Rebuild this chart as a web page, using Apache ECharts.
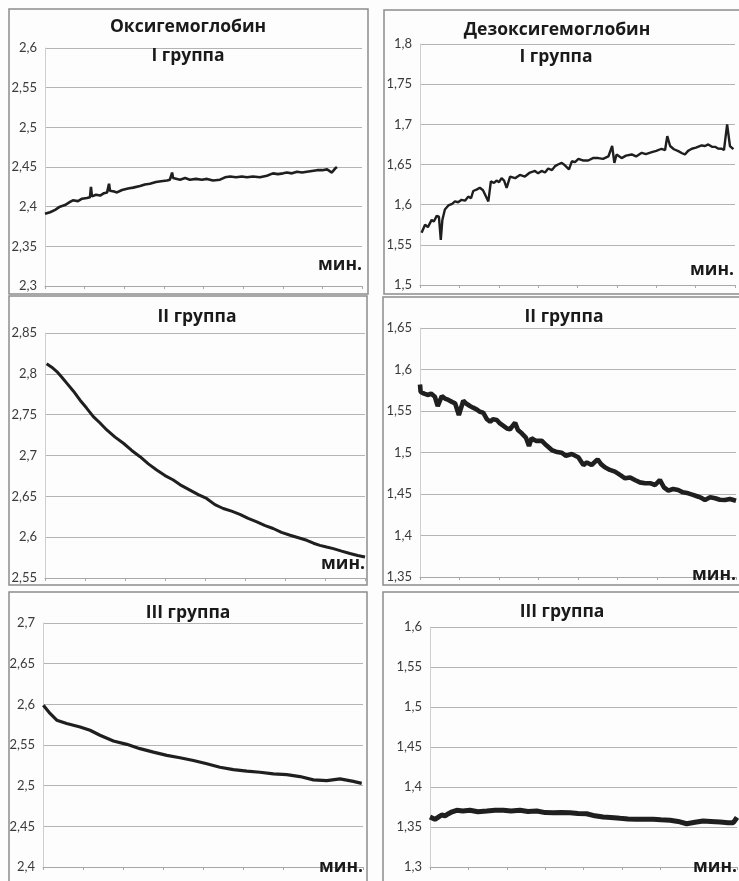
<!DOCTYPE html>
<html>
<head>
<meta charset="utf-8">
<script src="https://cdn.jsdelivr.net/npm/echarts@6/dist/echarts.min.js"></script>
<style>
  html, body { margin: 0; padding: 0; background: #fdfdfd; }
  #chart { width: 739px; height: 881px; }
</style>
</head>
<body>
<div id="chart"></div>
<script>
// заголовки панелей
const panelTitles = ['Оксигемоглобин', 'Дезоксигемоглобин'];
const groupTitles = ['I группа', 'I группа', 'II группа', 'II группа', 'III группа', 'III группа'];
const axisName = 'мин.';

// шкалы Y: [min, max, шаг]
const yScales = [
  [2.3, 2.6, 0.05], [1.5, 1.8, 0.05],
  [2.55, 2.85, 0.05], [1.35, 1.65, 0.05],
  [2.4, 2.7, 0.05], [1.3, 1.6, 0.05]
];

// данные: [время (доля оси, %), значение]
const oxyI = [
  [0, 2.391], [1.6, 2.393], [3.2, 2.396], [4.7, 2.400], [6.3, 2.402], [7.9, 2.406], [8.8, 2.408],
  [10.4, 2.407], [11.7, 2.410], [13.2, 2.411], [14.2, 2.412], [14.5, 2.425], [14.8, 2.413],
  [16.1, 2.415], [17.4, 2.414], [18.6, 2.417], [19.6, 2.418], [20.2, 2.429], [20.5, 2.420],
  [21.8, 2.419], [22.7, 2.418], [24.3, 2.421], [26.2, 2.423], [27.8, 2.424], [30, 2.426],
  [31.5, 2.428], [33.1, 2.429], [35, 2.431], [36.6, 2.432], [38.5, 2.433], [39.4, 2.434],
  [40.1, 2.443], [40.4, 2.436], [41, 2.435], [42.6, 2.434], [44.2, 2.436], [45.7, 2.434],
  [47.6, 2.435], [49.5, 2.434], [51.1, 2.435], [53, 2.433], [55.2, 2.434], [56.8, 2.437],
  [58.4, 2.438], [60.3, 2.437], [62.1, 2.438], [63.7, 2.437], [65.6, 2.438], [67.8, 2.437],
  [70, 2.439], [71.9, 2.442], [73.5, 2.441], [75.1, 2.442], [76.3, 2.443], [77.9, 2.442],
  [79.5, 2.444], [81.1, 2.443], [82.6, 2.444], [84.2, 2.445], [85.8, 2.446], [87.4, 2.446],
  [89, 2.447], [90.5, 2.443], [91.5, 2.448], [92.1, 2.450]
];
const deoxyI = [
  [0.5, 1.565], [1.6, 1.575], [2.5, 1.572], [3.7, 1.581], [4.4, 1.579], [5.3, 1.586], [6, 1.585],
  [6.6, 1.556], [7.1, 1.581], [7.9, 1.594], [9, 1.599], [10.2, 1.601], [11.1, 1.604], [12.1, 1.603],
  [13.2, 1.606], [14.3, 1.605], [15.3, 1.610], [16.2, 1.608], [16.9, 1.617], [18.1, 1.619],
  [19, 1.621], [20, 1.618], [20.6, 1.619], [21.7, 1.604], [22.5, 1.629], [23.5, 1.627],
  [24.3, 1.630], [25.1, 1.628], [25.9, 1.633], [26.7, 1.630], [27.5, 1.621], [28.6, 1.635],
  [30.2, 1.633], [31.7, 1.637], [33.3, 1.635], [34.9, 1.640], [36.5, 1.642], [37.5, 1.639],
  [38.6, 1.642], [39.7, 1.640], [40.7, 1.645], [41.9, 1.643], [42.9, 1.648], [43.8, 1.650],
  [45, 1.652], [46, 1.649], [47.3, 1.644], [48.2, 1.654], [49.2, 1.653], [50.3, 1.657],
  [51.7, 1.655], [53.4, 1.655], [54.9, 1.658], [56.6, 1.658], [58.1, 1.657], [59.8, 1.660],
  [61, 1.673], [61.7, 1.652], [62.4, 1.6625], [64, 1.658], [65.4, 1.661], [67.2, 1.6625],
  [68.6, 1.660], [70.4, 1.6646], [71.7, 1.663], [73.6, 1.6654], [75, 1.667], [76.7, 1.6696],
  [77.8, 1.668], [78.5, 1.6854], [79.4, 1.673], [80.6, 1.669], [82, 1.6666], [83.2, 1.664],
  [84.1, 1.6625], [85.1, 1.667], [86.3, 1.6696], [87.6, 1.671], [89.4, 1.6737], [90.5, 1.673],
  [91.5, 1.675], [92.7, 1.672], [93.7, 1.672], [94.6, 1.670], [95.8, 1.6696], [96.5, 1.668],
  [97.5, 1.700], [98.4, 1.673], [99.5, 1.669]
];
const oxyII = [
  [0.5, 2.8123], [2.1, 2.8081], [3.7, 2.8028], [5.2, 2.7962], [6.8, 2.7886], [8.9, 2.7787],
  [10.9, 2.768], [13, 2.7581], [15.1, 2.7476], [17.2, 2.7398], [19.3, 2.7313], [21.9, 2.7225],
  [24.5, 2.715], [27.1, 2.7062], [29.7, 2.6985], [32.3, 2.6897], [34.9, 2.6822], [37.5, 2.6754],
  [40.1, 2.670], [42.7, 2.6631], [45.3, 2.6576], [47.9, 2.6521], [50.5, 2.6474], [53.1, 2.6398],
  [55.7, 2.6351], [58.3, 2.6318], [60.9, 2.628], [63.5, 2.6229], [66.2, 2.6187], [68.8, 2.6141],
  [71.3, 2.6106], [73.9, 2.6058], [76.6, 2.6024], [79.2, 2.5993], [81.8, 2.5962], [83.9, 2.5926],
  [85.9, 2.590], [88, 2.5879], [90.1, 2.586], [92.7, 2.5829], [95.3, 2.580], [97.7, 2.5776],
  [100, 2.5757]
];
const deoxyII = [
  [0, 1.582], [0.2, 1.573], [1.3, 1.571], [2.6, 1.5693], [3.5, 1.571], [4.7, 1.5672], [5.6, 1.556],
  [6.9, 1.568], [7.9, 1.565], [9, 1.5633], [10.1, 1.561], [11.1, 1.5593], [12.3, 1.5452],
  [13.7, 1.5624], [14.6, 1.559], [15.8, 1.556], [16.8, 1.554], [17.9, 1.552], [19, 1.549],
  [20, 1.548], [21.2, 1.540], [22.2, 1.537], [23.1, 1.540], [24.3, 1.5392], [25.3, 1.535],
  [26.4, 1.532], [27.5, 1.529], [28.5, 1.528], [30.1, 1.5359], [31, 1.527], [32.2, 1.5231],
  [33.5, 1.518], [34.5, 1.5078], [35.3, 1.5171], [36.7, 1.514], [38.5, 1.5142], [39.9, 1.509],
  [41.7, 1.503], [43, 1.501], [44.8, 1.4998], [46.2, 1.496], [48, 1.4982], [50.1, 1.4942],
  [51.7, 1.4849], [52.8, 1.488], [54.3, 1.4849], [56.2, 1.4918], [57.3, 1.486], [58.5, 1.4822],
  [60.1, 1.479], [61.7, 1.4769], [63.3, 1.473], [64.9, 1.4689], [66.5, 1.470], [68, 1.4669],
  [69.6, 1.464], [71.2, 1.4629], [72.8, 1.463], [74.4, 1.4608], [75.9, 1.4669], [77.2, 1.458],
  [78.6, 1.454], [80.1, 1.456], [81.7, 1.4548], [83.2, 1.452], [84.9, 1.4508], [86.4, 1.449],
  [88.1, 1.4467], [89.2, 1.445], [90.2, 1.4428], [91.8, 1.446], [93.4, 1.4448], [94.9, 1.443],
  [96.5, 1.4428], [98.1, 1.444], [100, 1.4419]
];
const oxyIII = [
  [0.1, 2.599], [2.2, 2.5888], [4.3, 2.5805], [7.4, 2.5765], [11.6, 2.5722], [14.7, 2.5681],
  [17.8, 2.562], [22, 2.5549], [26.2, 2.5508], [30.3, 2.5455], [34.5, 2.5413], [38.7, 2.5372],
  [42.8, 2.5343], [47, 2.531], [51.2, 2.5269], [55.3, 2.5227], [59.5, 2.5198], [63.7, 2.5178],
  [67.8, 2.5165], [72, 2.5145], [76.2, 2.5136], [80.3, 2.5112], [84.5, 2.5071], [88.7, 2.5062],
  [92.8, 2.5083], [97, 2.5053], [99.6, 2.5028]
];
const deoxyIII = [
  [0, 1.3625], [1.6, 1.3596], [2.6, 1.362], [3.8, 1.365], [4.9, 1.364], [6, 1.3666], [7.2, 1.369],
  [8.7, 1.3709], [10.7, 1.370], [13, 1.3709], [15.6, 1.369], [18.5, 1.370], [21.2, 1.371],
  [23.9, 1.3709], [26.4, 1.370], [29.3, 1.3709], [31.9, 1.3695], [34.8, 1.370], [37.5, 1.368],
  [40.2, 1.3679], [42.7, 1.368], [45.6, 1.3679], [48.2, 1.367], [51, 1.3666], [53.7, 1.364],
  [56.4, 1.3625], [58.9, 1.362], [61.9, 1.3609], [64.5, 1.360], [67.3, 1.3596], [70, 1.3596],
  [72.7, 1.3596], [75.2, 1.359], [78.2, 1.3584], [80.8, 1.357], [83.6, 1.3541], [86.3, 1.356],
  [89, 1.3575], [91.5, 1.357], [94.5, 1.3563], [97.1, 1.3554], [98.8, 1.3554], [100, 1.362]
];
const seriesData = [oxyI, deoxyI, oxyII, deoxyII, oxyIII, deoxyIII];

// раскладка панелей
const grids = [
  { left: 45, top: 48, width: 317, height: 238 },
  { left: 420, top: 44, width: 315, height: 241 },
  { left: 45, top: 333, width: 320, height: 245 },
  { left: 420, top: 328, width: 316, height: 249 },
  { left: 43, top: 623, width: 320, height: 244 },
  { left: 430, top: 627, width: 307, height: 240 }
];
const frames = [
  [9, 9, 359, 285], [384, 10, 400, 284],
  [9, 296, 358, 289], [383, 297, 400, 288],
  [9, 592, 358, 320], [383, 592, 400, 320]
];
const lineWidths = [2.6, 2.4, 3, 4.6, 3.2, 5];
const groupPos = [[188, 56], [556, 57], [197, 317], [564, 317], [188, 613], [562, 612]];
const titlePos = [[188, 27], [557, 30]];
const unitPos = [[362, 265], [734, 270], [365, 564], [736, 575], [363, 867], [737, 867]];

const chart = echarts.init(document.getElementById('chart'));
const labelFmt = v => String(+v.toFixed(2)).replace('.', ',');
const titleFont = 'bold 17.5px "Open Sans", sans-serif';

const graphic = [];
frames.forEach(f => {
  graphic.push({ type: 'rect', shape: { x: f[0], y: f[1], width: f[2], height: f[3] },
    style: { fill: null, stroke: '#8c8c8c', lineWidth: 1.5 }, z: 1 });
});
panelTitles.forEach((t, i) => {
  graphic.push({ type: 'text', x: titlePos[i][0], y: titlePos[i][1], z: 10,
    style: { text: t, font: titleFont, fill: '#1a1a1a', align: 'center', verticalAlign: 'middle' } });
});
groupTitles.forEach((t, i) => {
  graphic.push({ type: 'text', x: groupPos[i][0], y: groupPos[i][1], z: 10,
    style: { text: t, font: titleFont, fill: '#1a1a1a', align: 'center', verticalAlign: 'middle' } });
  graphic.push({ type: 'text', x: unitPos[i][0], y: unitPos[i][1], z: 10,
    style: { text: axisName, font: titleFont, fill: '#1a1a1a', align: 'right', verticalAlign: 'middle' } });
});

const option = {
  backgroundColor: '#fdfdfd',
  animation: false,
  grid: grids,
  xAxis: grids.map((g, i) => ({
    type: 'value', gridIndex: i, min: 0, max: 100, interval: 12.5,
    axisLabel: { show: false },
    axisLine: { lineStyle: { color: '#a8a8a8', width: 1 } },
    axisTick: { show: true, length: 3, lineStyle: { color: '#a8a8a8' } },
    splitLine: { show: false }
  })),
  yAxis: yScales.map((s, i) => ({
    type: 'value', gridIndex: i, min: s[0], max: s[1], interval: s[2],
    axisLine: { show: true, lineStyle: { color: '#cfcfcf', width: 1 } },
    axisTick: { show: false },
    axisLabel: { formatter: labelFmt, color: '#3a3a3a', fontSize: 13, margin: 8,
      fontFamily: 'Lato, "Open Sans", sans-serif' },
    splitLine: { lineStyle: { color: '#b4b4b4', width: 1 } }
  })),
  series: seriesData.map((d, i) => ({
    type: 'line', xAxisIndex: i, yAxisIndex: i, data: d,
    showSymbol: false, smooth: false,
    lineStyle: { color: '#1f1f1f', width: lineWidths[i] }
  })),
  graphic: graphic
};
chart.setOption(option);
</script>
</body>
</html>
